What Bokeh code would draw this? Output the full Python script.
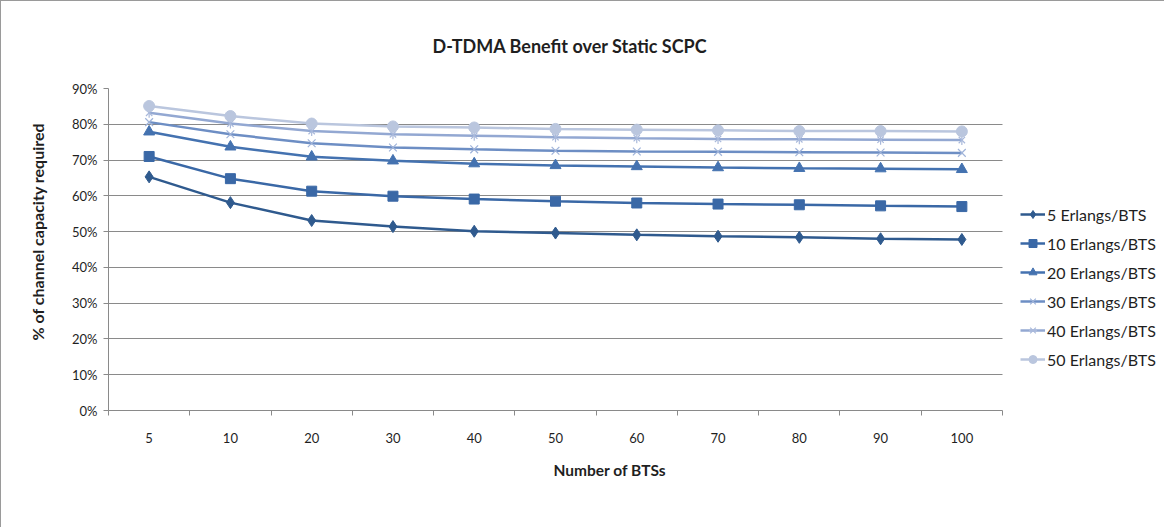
from bokeh.plotting import figure
from bokeh.models import (Range1d, LinearAxis, FixedTicker,
                          NumeralTickFormatter, Legend, LegendItem, Title)
from bokeh.embed import file_html
from bokeh.resources import INLINE

# ---- data ----
bts = ["5", "10", "20", "30", "40", "50", "60", "70", "80", "90", "100"]
e5 = [0.653, 0.581, 0.531, 0.514, 0.501, 0.496, 0.491, 0.487, 0.484, 0.480, 0.478]
e10 = [0.710, 0.648, 0.613, 0.599, 0.591, 0.585, 0.580, 0.577, 0.575, 0.572, 0.570]
e20 = [0.779, 0.737, 0.709, 0.698, 0.690, 0.685, 0.682, 0.679, 0.677, 0.676, 0.674]
e30 = [0.806, 0.772, 0.747, 0.735, 0.730, 0.726, 0.724, 0.723, 0.722, 0.721, 0.720]
e40 = [0.832, 0.802, 0.781, 0.772, 0.768, 0.764, 0.761, 0.759, 0.758, 0.757, 0.756]
e50 = [0.851, 0.823, 0.802, 0.794, 0.791, 0.787, 0.785, 0.783, 0.781, 0.781, 0.780]
labels = ["5 Erlangs/BTS", "10 Erlangs/BTS", "20 Erlangs/BTS",
          "30 Erlangs/BTS", "40 Erlangs/BTS", "50 Erlangs/BTS"]
y_ticks = [0.0, 0.1, 0.2, 0.3, 0.4, 0.5, 0.6, 0.7, 0.8, 0.9]

FONT = "Lato"
TXT = "#1f1f1f"
GRID = "#8a8a8a"

n = len(bts)
xc = [i + 0.5 for i in range(n)]          # category centres
xb = [float(i) for i in range(n + 1)]     # category boundaries

W, H = 1164, 527
LEFT, TOP, BOTTOM = 107, 87, 118
PLOT_W = 894                               # width of the category area in px
frame_w = W - LEFT
x_end = n * frame_w / PLOT_W               # frame extends under the legend

p = figure(width=W, height=H, output_backend="svg", toolbar_location=None,
           x_range=Range1d(0, x_end), y_range=Range1d(0, 0.9),
           x_axis_location=None, min_border_left=LEFT, min_border_right=0,
           min_border_top=TOP, min_border_bottom=BOTTOM)
p.outline_line_color = None
p.background_fill_color = "white"
p.border_fill_color = "white"
p.styles = {"border-left": "1px solid #9a9a9a", "border-top": "1px solid #9a9a9a"}

for g in p.xgrid:
    g.visible = False
yg = p.ygrid[0]
yg.grid_line_color = GRID
yg.ticker = FixedTicker(ticks=y_ticks)
use_grid = "cross_bounds" in yg.properties()
if use_grid:
    yg.cross_bounds = (0, n)
else:
    yg.visible = False
    p.segment(x0=[0] * len(y_ticks), x1=[n] * len(y_ticks), y0=y_ticks, y1=y_ticks,
              line_color=GRID, line_width=1, level="underlay")

ya = p.yaxis[0]
ya.ticker = FixedTicker(ticks=y_ticks)
ya.formatter = NumeralTickFormatter(format="0%")
ya.axis_line_color = GRID
ya.major_tick_line_color = GRID
ya.major_tick_out = 5
ya.major_tick_in = 0
ya.minor_tick_line_color = None
ya.major_label_text_font = FONT
ya.major_label_text_font_size = "13px"
ya.major_label_text_color = TXT
ya.major_label_standoff = 6

# category labels at centres, tick marks between categories
cat_axis = LinearAxis(ticker=FixedTicker(ticks=xc, minor_ticks=xb), bounds=(0, n),
                      major_label_overrides={x: lab for x, lab in zip(xc, bts)},
                      axis_line_color=GRID, major_tick_line_color=None,
                      major_tick_out=0, major_tick_in=0,
                      minor_tick_line_color=GRID, minor_tick_out=5, minor_tick_in=0,
                      major_label_text_font=FONT, major_label_text_font_size="13px",
                      major_label_text_color=TXT, major_label_standoff=17)
p.add_layout(cat_axis, "below")

# titles
p.add_layout(Title(text="D-TDMA Benefit over Static SCPC", align="left", offset=324,
                   text_font=FONT, text_font_size="18px", text_font_style="bold",
                   text_color=TXT, standoff=63), "above")
p.add_layout(Title(text="Number of BTSs", align="left", offset=445,
                   text_font=FONT, text_font_size="15.5px", text_font_style="bold",
                   text_color=TXT, standoff=26), "below")
p.add_layout(Title(text="% of channel capacity required", align="left", offset=70,
                   text_font=FONT, text_font_size="16px", text_font_style="bold",
                   text_color=TXT, standoff=46), "left")

colors = ["#2F5A8E", "#3A68A6", "#4472B0", "#6D8EC4", "#93A8D2", "#BAC6DE"]
mcolors = ["#2F5A8E", "#3A68A6", "#4472B0", "#9FB3D9", "#A9B9DB", "#BAC6DE"]
series = [e5, e10, e20, e30, e40, e50]

items = []
for i, vals in enumerate(series):
    c = colors[i]
    mc = mcolors[i]
    lr = p.line(xc, vals, line_color=c, line_width=2.5)
    rs = [lr]
    if i == 0:
        rs.append(p.scatter(xc, vals, marker="diamond", size=12,
                            fill_color=c, line_color=c))
    elif i == 1:
        rs.append(p.scatter(xc, vals, marker="square", size=10, fill_color=c, line_color=c))
    elif i == 2:
        rs.append(p.scatter(xc, vals, marker="triangle", size=11, fill_color=c, line_color=c))
    elif i == 3:
        rs.append(p.scatter(xc, vals, marker="x", size=11, line_color=mc, line_width=1.2))
    elif i == 4:
        rs.append(p.scatter(xc, vals, marker="x", size=9, line_color=mc, line_width=1.2))
        rs.append(p.scatter(xc, vals, marker="dash", angle=1.570796, size=10,
                            line_color=mc, line_width=1.2))
    else:
        rs.append(p.scatter(xc, vals, marker="circle", size=11, fill_color=c, line_color=c))
    items.append(LegendItem(label=labels[i], renderers=rs))

legend = Legend(items=items, location=(912, 41), orientation="vertical",
                glyph_width=25, glyph_height=20, label_height=20, spacing=9,
                label_standoff=2, padding=0, margin=0, border_line_color=None,
                background_fill_alpha=0, label_text_font=FONT,
                label_text_font_size="16px", label_text_color=TXT)
p.add_layout(legend, "center")

open("out.html", "w").write(file_html(p, INLINE))
